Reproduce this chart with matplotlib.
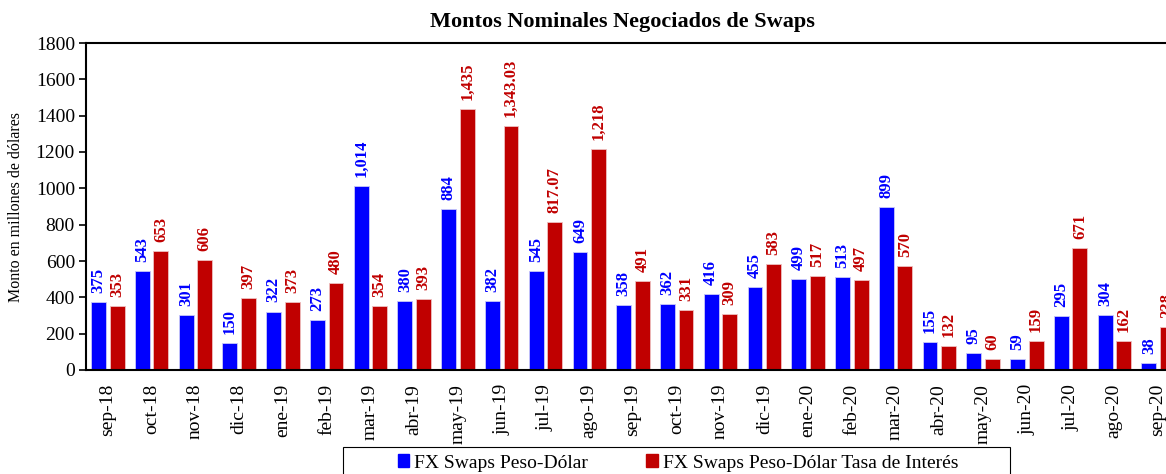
import matplotlib
matplotlib.use("Agg")
import matplotlib.pyplot as plt
import numpy as np
from matplotlib.patches import Patch, Rectangle

months = ["sep-18", "oct-18", "nov-18", "dic-18", "ene-19", "feb-19", "mar-19", "abr-19",
          "may-19", "jun-19", "jul-19", "ago-19", "sep-19", "oct-19", "nov-19", "dic-19",
          "ene-20", "feb-20", "mar-20", "abr-20", "may-20", "jun-20", "jul-20", "ago-20", "sep-20"]
fx_swaps = [375, 543, 301, 150, 322, 273, 1014, 380, 884, 382, 545, 649, 358,
            362, 416, 455, 499, 513, 899, 155, 95, 59, 295, 304, 38]
fx_swaps_tasa = [353, 653, 606, 397, 373, 480, 354, 393, 1435, 1343.03, 817.07, 1218, 491,
                 331, 309, 583, 517, 497, 570, 132, 60, 159, 671, 162, 238]


def fmt(v):
    if float(v).is_integer():
        return f"{v:,.0f}"
    return f"{v:,.2f}"


plt.rcParams["font.family"] = ["Liberation Serif", "DejaVu Serif"]

W, H = 1166, 474
fig = plt.figure(figsize=(W / 100, H / 100), dpi=100)
# axes runs past the right edge like in the original screenshot
ax = fig.add_axes([86 / W, 1 - 370 / H, 1094 / W, 327 / H])

x = np.arange(len(months))
w = 0.34
off = 0.212
blue = "#0000FF"
red = "#C00000"

ax.bar(x - off, fx_swaps, w, color=blue, edgecolor="#c8c8f8", linewidth=0.6)
ax.bar(x + off, fx_swaps_tasa, w, color=red, edgecolor="#eec0c0", linewidth=0.6)

for i in range(len(months)):
    ax.annotate(fmt(fx_swaps[i]), (x[i] - off, fx_swaps[i]), xytext=(0, 6.5),
                textcoords="offset points", rotation=90, ha="center", va="bottom",
                fontsize=12, fontweight="bold", color=blue, annotation_clip=False)
    ax.annotate(fmt(fx_swaps_tasa[i]), (x[i] + off, fx_swaps_tasa[i]), xytext=(0, 6.5),
                textcoords="offset points", rotation=90, ha="center", va="bottom",
                fontsize=12, fontweight="bold", color=red, annotation_clip=False)

ax.set_xlim(-0.5, len(months) - 0.5)
ax.set_ylim(0, 1800)
ax.set_yticks(np.arange(0, 1801, 200))
ax.tick_params(axis="y", labelsize=14, direction="out", length=5, width=1.2, pad=3)
ax.set_xticks(x)
ax.set_xticklabels(months, rotation=90, fontsize=14)
ax.tick_params(axis="x", length=0, pad=10)
for s in ["left", "top", "bottom"]:
    ax.spines[s].set_linewidth(1.5)
ax.spines["right"].set_visible(False)

ax.set_ylabel("Monto en millones de dólares", fontsize=11.5)
ax.yaxis.set_label_coords(-62 / 1094, 0.5)

fig.text(622 / W, 1 - 22 / H, "Montos Nominales Negociados de Swaps",
         ha="center", va="center", fontsize=16, fontweight="bold")

# legend box drawn separately, it runs off the bottom edge
fig.patches.append(Rectangle((343 / W, -10 / H), 667 / W, (474 - 447 + 10) / H,
                             transform=fig.transFigure, fill=False,
                             edgecolor="black", linewidth=0.8))
handles = [Patch(color=blue), Patch(color=red)]
fig.legend(handles, ["FX Swaps Peso-Dólar", "FX Swaps Peso-Dólar Tasa de Interés"],
           loc="center", bbox_to_anchor=(678 / W, 1 - 463 / H), ncol=2,
           fontsize=14, frameon=False, handlelength=0.6, handleheight=0.6,
           handletextpad=0.25, columnspacing=3.0, borderaxespad=0)

fig.savefig("out.png", dpi=100)
